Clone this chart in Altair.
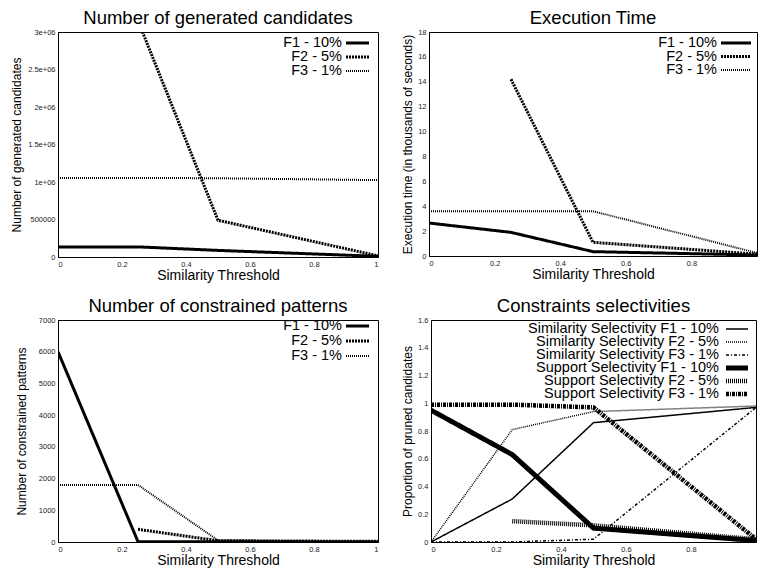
import altair as alt
import pandas as pd

FONT = "Liberation Sans"

x_vals = [0, 0.25, 0.5, 1]

# Panel 1: Number of generated candidates
p1_series = ["F1 - 10%", "F2 - 5%", "F3 - 1%"]
p1_f1 = [135000, 135000, 88000, 9000]
p1_f2 = [None, 3150000, 490000, 15000]
p1_f3 = [1055000, 1055000, 1050000, 1025000]
p1_yticks = [0, 500000, 1000000, 1500000, 2000000, 2500000, 3000000]
p1_ylabels = ["0", "500000", "1e+06", "1.5e+06", "2e+06", "2.5e+06", "3e+06"]

# Panel 2: Execution time (thousands of seconds)
p2_series = ["F1 - 10%", "F2 - 5%", "F3 - 1%"]
p2_f1 = [2.65, 1.9, 0.35, 0.08]
p2_f2 = [None, 14.2, 1.1, 0.15]
p2_f3 = [3.6, 3.6, 3.6, 0.25]
p2_yticks = [0, 2, 4, 6, 8, 10, 12, 14, 16, 18]

# Panel 3: Number of constrained patterns
p3_series = ["F1 - 10%", "F2 - 5%", "F3 - 1%"]
p3_f1 = [6000, 10, 5, 3]
p3_f2 = [None, 400, 40, 20]
p3_f3 = [1800, 1800, 50, 10]
p3_yticks = [0, 1000, 2000, 3000, 4000, 5000, 6000, 7000]

# Panel 4: Constraints selectivities
p4_series = [
    "Similarity Selectivity F1 - 10%",
    "Similarity Selectivity F2 - 5%",
    "Similarity Selectivity F3 - 1%",
    "Support Selectivity F1 - 10%",
    "Support Selectivity F2 - 5%",
    "Support Selectivity F3 - 1%",
]
p4_sim_f1 = [0.0, 0.31, 0.86, 0.97]
p4_sim_f2 = [0.0, 0.81, 0.94, 0.98]
p4_sim_f3 = [0.0, 0.0, 0.02, 0.97]
p4_sup_f1 = [0.95, 0.63, 0.10, 0.01]
p4_sup_f2 = [None, 0.15, 0.12, 0.02]
p4_sup_f3 = [0.99, 0.99, 0.97, 0.02]
p4_yticks = [0, 0.2, 0.4, 0.6, 0.8, 1.0, 1.2, 1.4, 1.6]

x_ticks_full = [0, 0.2, 0.4, 0.6, 0.8, 1]
x_ticks_cut = [0, 0.2, 0.4, 0.6, 0.8]


def long_df(series, columns, key):
    rows = []
    for name, vals in zip(series, columns):
        for xv, yv in zip(x_vals, vals):
            if yv is not None:
                rows.append({"x": xv, "y": yv, key: name})
    return pd.DataFrame(rows)


def label_expr(values, labels):
    expr = "datum.label"
    for v, l in zip(reversed(values), reversed(labels)):
        expr = f"datum.value == {v} ? '{l}' : ({expr})"
    return expr


def panel(df, key, title, ytitle, ydomain, yticks, series, dashes, widths,
          width, height, leg_rows, text_right, sym_span,
          xticks, ytitle_pad, yfmt="~g", ylabel_expr=None):
    yaxis_kw = dict(values=yticks, title=ytitle, titleFontSize=12,
                    titlePadding=ytitle_pad, labelPadding=3)
    if ylabel_expr is not None:
        yaxis_kw["labelExpr"] = ylabel_expr
    else:
        yaxis_kw["format"] = yfmt
    dash_scale = alt.Scale(domain=series, range=dashes)
    width_scale = alt.Scale(type="ordinal", domain=series, range=widths)

    lines = alt.Chart(df).mark_line(clip=True, color="black", strokeCap="butt").encode(
        x=alt.X("x:Q", scale=alt.Scale(domain=[0, 1], nice=False),
                axis=alt.Axis(values=xticks, format="~g",
                              title="Similarity Threshold", titleFontSize=14,
                              titlePadding=1, labelPadding=3)),
        y=alt.Y("y:Q", scale=alt.Scale(domain=ydomain, nice=False),
                axis=alt.Axis(**yaxis_kw)),
        strokeDash=alt.StrokeDash(f"{key}:N", scale=dash_scale, legend=None),
        strokeWidth=alt.StrokeWidth(f"{key}:N", scale=width_scale, legend=None),
    )

    # gnuplot-style key: label text, then the line sample to its right
    leg_df = pd.DataFrame({key: series})
    leg_y = alt.Y(f"{key}:N", axis=None,
                  scale=alt.Scale(type="point", domain=series,
                                  range=list(leg_rows), padding=0))
    samples = alt.Chart(leg_df).mark_rule(color="black", strokeCap="butt").encode(
        y=leg_y,
        x=alt.value(width - sym_span[0]),
        x2=alt.value(width - sym_span[1]),
        strokeDash=alt.StrokeDash(f"{key}:N", scale=dash_scale, legend=None),
        strokeWidth=alt.StrokeWidth(f"{key}:N", scale=width_scale, legend=None),
    )
    texts = alt.Chart(leg_df).mark_text(
        align="right", baseline="middle", font=FONT, fontSize=14.5, color="black"
    ).encode(
        y=leg_y,
        x=alt.value(width - text_right),
        text=f"{key}:N",
    )
    return alt.layer(lines, samples, texts).resolve_scale(
        y="independent"
    ).properties(
        width=width, height=height,
        title=alt.TitleParams(title, fontSize=18.5, font=FONT, fontWeight="normal",
                              color="black", offset=1),
    )


dash3 = [[1, 0], [2, 1], [1, 1]]
width3 = [3, 3, 2]

c1 = panel(long_df(p1_series, [p1_f1, p1_f2, p1_f3], "s1"), "s1",
           "Number of generated candidates", "Number of generated candidates",
           [0, 3000000], p1_yticks, p1_series, dash3, width3,
           320, 225, (11, 39), 36, (32, 9), x_ticks_full, 4,
           ylabel_expr=label_expr(p1_yticks, p1_ylabels))

c2 = panel(long_df(p2_series, [p2_f1, p2_f2, p2_f3], "s2"), "s2",
           "Execution Time", "Execution time (in thousands of seconds)",
           [0, 18], p2_yticks, p2_series, dash3, width3,
           328, 224, (11, 38), 40, (36, 6), x_ticks_cut, 3)

c3 = panel(long_df(p3_series, [p3_f1, p3_f2, p3_f3], "s3"), "s3",
           "Number of constrained patterns", "Number of constrained patterns",
           [0, 7000], p3_yticks, p3_series, dash3, width3,
           320, 222, (6, 36), 36, (32, 9), x_ticks_full, 10, yfmt="d")

c4 = panel(long_df(p4_series, [p4_sim_f1, p4_sim_f2, p4_sim_f3,
                               p4_sup_f1, p4_sup_f2, p4_sup_f3], "s4"), "s4",
           "Constraints selectivities", "Proportion of pruned candidates",
           [0, 1.6], p4_yticks, p4_series,
           [[1, 0], [1, 1], [3, 2, 1, 2], [1, 0], [1, 1], [3, 1, 1, 1]],
           [1.5, 1.5, 1.5, 5, 4.5, 4.5],
           325, 222, (9, 74), 37, (30, 8), x_ticks_cut, 3)

chart = alt.concat(
    c1, c2, c3, c4, columns=2, align="none",
    spacing={"row": 13, "column": 22},
).resolve_scale(
    strokeDash="independent", strokeWidth="independent"
).properties(
    padding={"left": 2, "top": 0, "right": 0, "bottom": 0}
).configure_view(
    stroke="black", strokeWidth=1
).configure_axis(
    grid=False, ticks=False, domainColor="black",
    labelFont=FONT, labelFontSize=7.5, labelColor="#222",
    titleFont=FONT, titleFontWeight="normal", titleColor="black",
).configure_title(anchor="middle")

chart.save("out.html", embed_options={"renderer": "svg", "actions": False})
